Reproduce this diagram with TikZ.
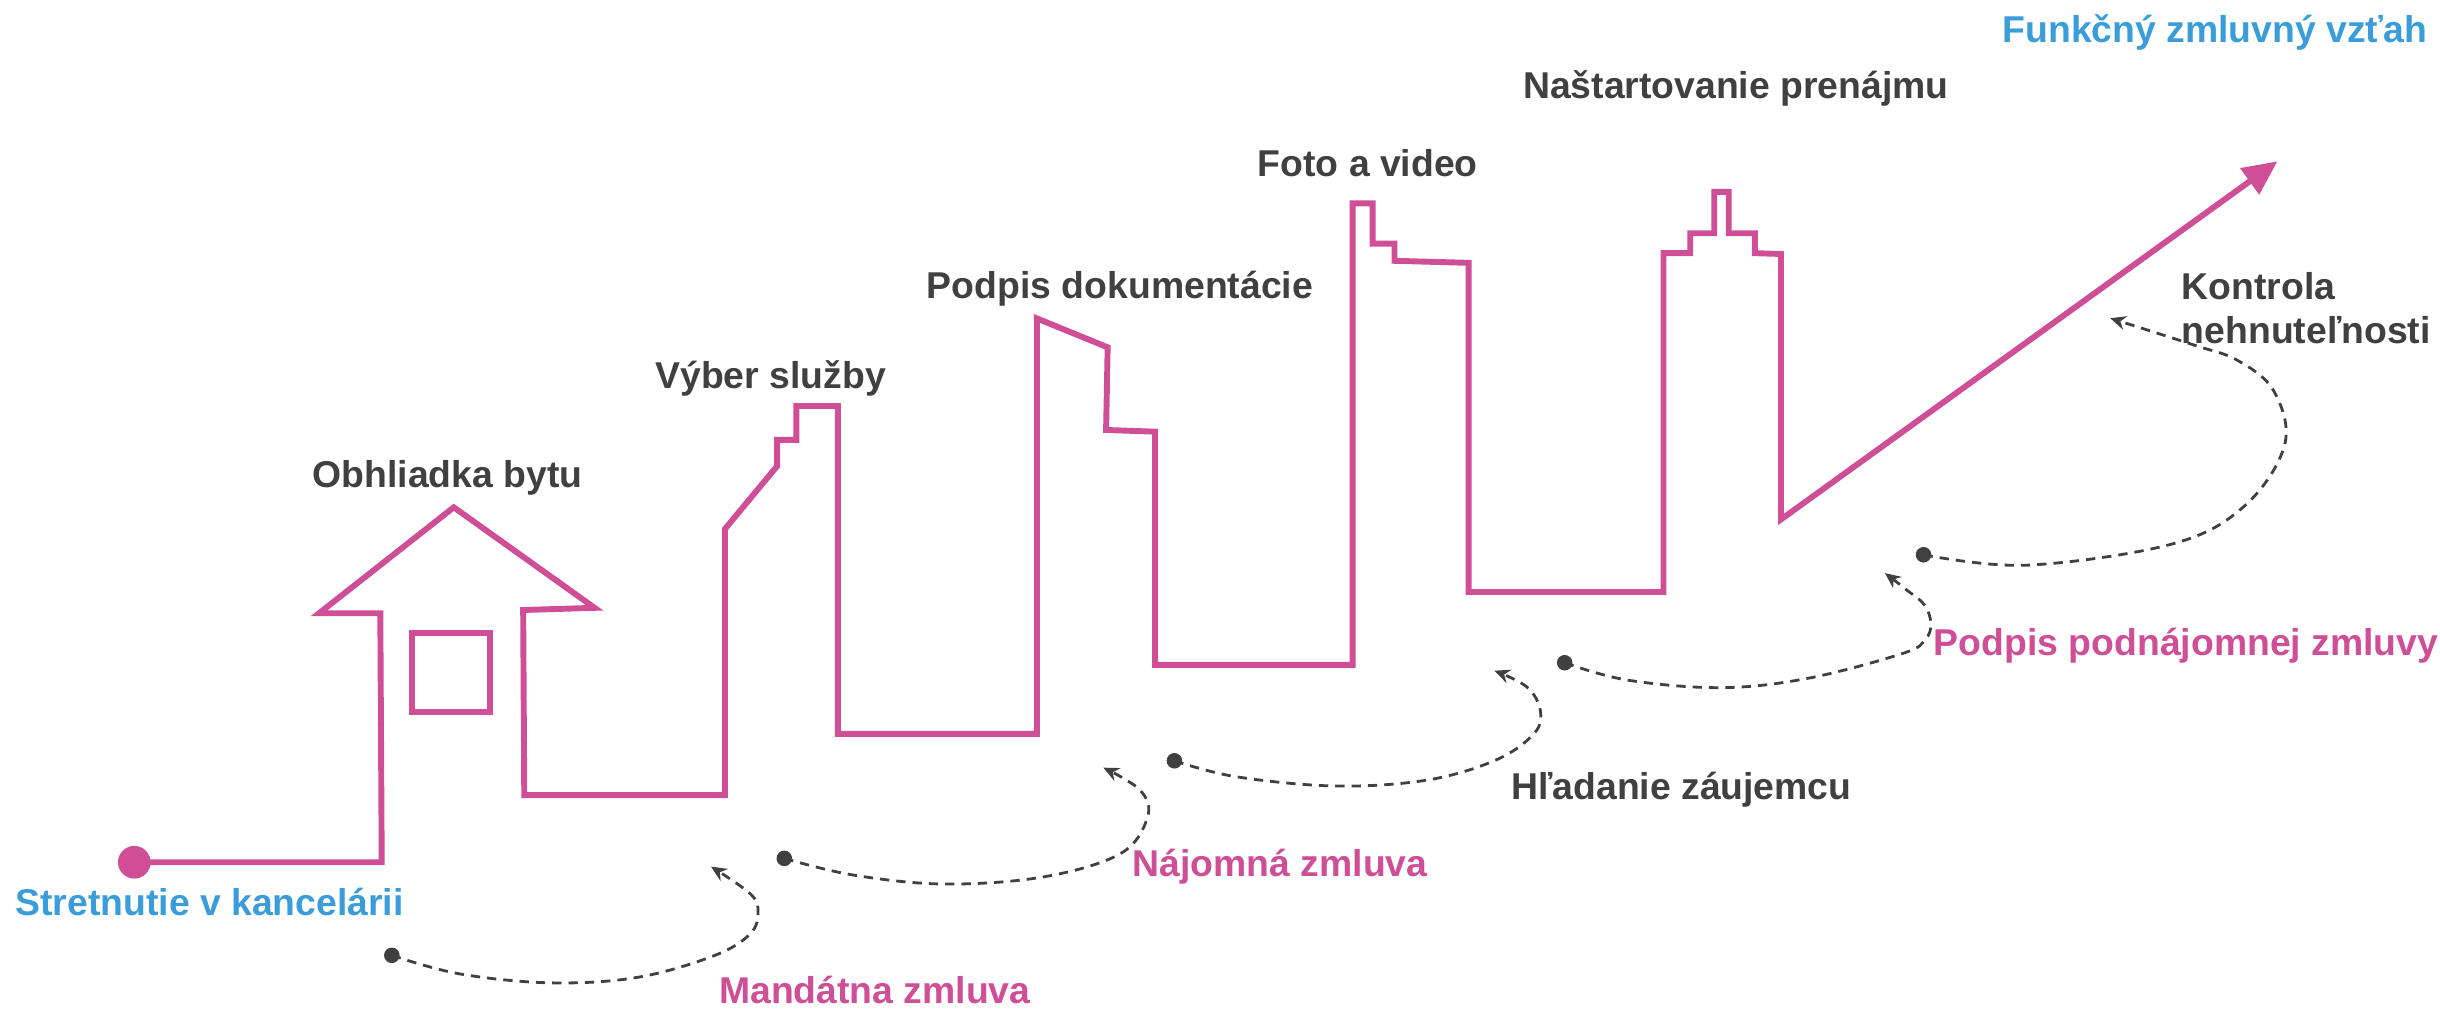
\documentclass[tikz,border=0pt]{standalone}
\usepackage{fontspec}
\setmainfont{Liberation Sans}
\usetikzlibrary{arrows.meta}
\definecolor{mpink}{RGB}{206,79,150}
\definecolor{mblue}{RGB}{58,157,218}
\definecolor{mdark}{RGB}{64,64,64}
\begin{document}
\begin{tikzpicture}[x=1pt,y=-1pt,
  lbl/.style={inner sep=0pt, font=\fontsize{24}{28.3}\selectfont\bfseries},
  darklbl/.style={lbl, text=mdark},
  pinklbl/.style={lbl, text=mpink},
  bluelbl/.style={lbl, text=mblue},
  mainline/.style={draw=mpink, line width=3.8pt, line join=miter, -{Triangle[length=22pt,width=20pt]}},
  pinkline/.style={draw=mpink, line width=3.8pt, line join=miter},
  dot/.style={circle, fill=mdark, inner sep=0pt, minimum size=10pt},
  startdot/.style={circle, fill=mpink, inner sep=0pt, minimum size=21pt},
  flow/.style={draw=mdark, line width=1.8pt, dash pattern=on 6pt off 4.5pt, -{Stealth[length=10pt,width=9pt]}}
]
\useasboundingbox (0,0) rectangle (1568,648);

% start and goal
\node[startdot] (start) at (86.3,554.1) {};
\coordinate (goal) at (1463.5,103.7);

% main skyline path
\draw[mainline] (start.center) -- (245.3,554.1) -- (244.4,394.1) -- (205,394.1) -- (291.6,326)
  -- (382.1,390.6) -- (336.2,392) -- (336.9,511) -- (465.8,511) -- (465.8,340)
  -- (499.4,299.5) -- (499.4,282.7) -- (511.8,282.7) -- (511.8,260.9) -- (538.4,260.9)
  -- (538.4,471.6) -- (666.3,471.6) -- (666.3,204.6) -- (711.8,223.2) -- (710.8,276.3)
  -- (742.3,277.4) -- (742.3,427.3) -- (869.2,427.3) -- (869.2,130.7) -- (882.1,130.7)
  -- (882.1,156.6) -- (896.1,156.6) -- (896.1,167.6) -- (943.8,168.9) -- (943.8,380.4)
  -- (1069,380.4) -- (1069,162.7) -- (1086.2,162.7) -- (1086.2,149.9) -- (1101.6,149.9)
  -- (1101.6,123.3) -- (1110.9,123.3) -- (1110.9,149.9) -- (1127.7,149.9) -- (1127.7,162.7)
  -- (1144.5,163.2) -- (1144.5,333.8) -- (goal);

% window
\draw[pinkline] (265,407) rectangle (314.9,457.3);

% dashed flows
\node[dot] (d1) at (251.8,613.9) {};
\coordinate (t1) at (456.9,556.9);
\draw[flow] plot[smooth, tension=0.6] coordinates {(d1.center) (295.2,625.8) (354.2,631.6) (410,628) (459.2,614) (482.2,600) (487.1,586) (482.2,574.4) (t1)};

\node[dot] (d2) at (504,551.6) {};
\coordinate (t2) at (709,493.3);
\draw[flow] plot[smooth, tension=0.6] coordinates {(d2.center) (548.2,562.3) (607.2,568.1) (671.2,563.4) (720.3,548.4) (737.5,524.8) (732.6,507.7) (t2)};

\node[dot] (d3) at (754.7,488.9) {};
\coordinate (t3) at (960.3,431);
\draw[flow] plot[smooth, tension=0.6] coordinates {(d3.center) (794.1,499.1) (858,505.1) (917,501.3) (961.3,488.4) (985.9,471.3) (989.8,456.3) (981,441.3) (t3)};

\node[dot] (d4) at (1005.5,425.9) {};
\coordinate (t4) at (1211.3,368.3);
\draw[flow] plot[smooth, tension=0.6] coordinates {(d4.center) (1045.6,437) (1106.2,441.9) (1162.3,435.8) (1223,419.8) (1237,411.2) (1240.8,401.3) (1237,389.1) (1225.4,379.2) (t4)};

\node[dot] (d5) at (1236.1,356.5) {};
\coordinate (t5) at (1356.1,204.5);
\draw[flow] plot[smooth, tension=0.6] coordinates {(d5.center) (1302.4,363.2) (1395.8,349.6) (1442.5,325) (1468.2,285.7) (1461.2,251.3) (1437.9,231.6) (1409.8,221.7) (t5)};

% labels
\node[bluelbl, anchor=base west] (l1) at (9.8,588) {Stretnutie v kancelárii};
\node[pinklbl, anchor=base west] (l2) at (462,645) {Mandátna zmluva};
\node[pinklbl, anchor=base west] (l3) at (727.7,563.4) {Nájomná zmluva};
\node[darklbl, anchor=base west] (l4) at (971,513.7) {Hľadanie záujemcu};
\node[pinklbl, anchor=base west] (l5) at (1242.6,421) {Podpis podnájomnej zmluvy};
\node[darklbl, anchor=base west] (l6a) at (1401.9,192.2) {Kontrola};
\node[darklbl, anchor=base west] (l6b) at (1401.9,220.5) {nehnuteľnosti};
\node[bluelbl, anchor=base west] (l7) at (1286.8,27.4) {Funkčný zmluvný vzťah};
\node[darklbl, anchor=base west] (l8) at (978.6,63.1) {Naštartovanie prenájmu};
\node[darklbl, anchor=base east] (l9) at (949.8,113.5) {Foto a video};
\node[darklbl, anchor=base west] (l10) at (595.5,191.7) {Podpis dokumentácie};
\node[darklbl, anchor=base west] (l11) at (421,249.5) {Výber služby};
\node[darklbl, anchor=base west] (l12) at (200.7,313.1) {Obhliadka bytu};
\end{tikzpicture}
\end{document}
